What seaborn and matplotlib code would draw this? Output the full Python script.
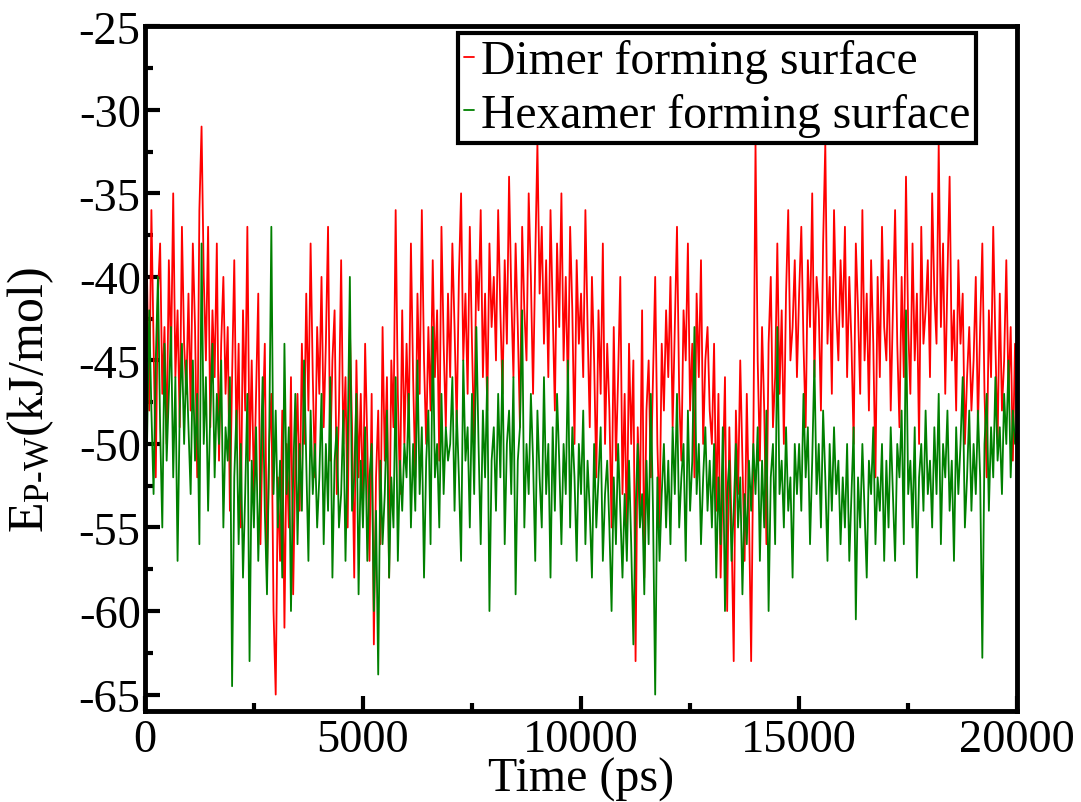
import numpy as np
import pandas as pd
import matplotlib
matplotlib.use("Agg")
import matplotlib.pyplot as plt
import seaborn as sns
from matplotlib.ticker import MultipleLocator
from matplotlib.lines import Line2D

# ---- data (kJ/mol), sampled every 50 ps from 0 to 20000 ps ----
time_step = 50
dimer = [
    -45, -40, -48, -36, -44, -52, -41, -38, -47, -43, -50, -39, -45, -35, -46, -42, -49, -37, -44, -47,
    -41, -48, -38, -43, -52, -36, -31, -40, -45, -37, -49, -42, -46, -38, -51, -44, -40, -47, -43, -54,
    -46, -39, -50, -44, -55, -42, -48, -37, -51, -45, -53, -47, -41, -56, -49, -44, -58, -50, -47, -60,
    -65, -52, -57, -48, -61, -50, -55, -46, -59, -51, -47, -54, -44, -50, -41, -48, -38, -46, -52, -43,
    -47, -40, -49, -44, -37, -51, -45, -42, -53, -48, -39, -50, -46, -55, -43, -49, -58, -45, -52, -47,
    -54, -44, -50, -57, -47, -62, -52, -48, -56, -43, -51, -46, -58, -45, -49, -36, -47, -53, -42, -50,
    -44, -49, -38, -46, -52, -41, -47, -36, -45, -50, -43, -48, -39, -46, -42, -51, -37, -44, -49, -41,
    -46, -38, -43, -49, -40, -35, -45, -41, -47, -37, -44, -50, -39, -42, -36, -46, -41, -48, -38, -43,
    -40, -45, -36, -42, -47, -39, -44, -34, -41, -46, -38, -43, -49, -37, -42, -45, -35, -40, -47, -39,
    -32, -41, -37, -44, -39, -46, -36, -42, -48, -38, -43, -35, -45, -40, -47, -37, -42, -50, -39, -44,
    -41, -46, -36, -43, -49, -40, -45, -52, -42, -47, -38, -50, -44, -48, -55, -43, -51, -46, -40, -53,
    -47, -56, -44, -50, -45, -63, -49, -54, -42, -58, -48, -45, -52, -46, -40, -50, -55, -44, -48, -42,
    -46, -40, -49, -43, -37, -47, -51, -42, -45, -38, -48, -44, -52, -41, -46, -39, -50, -45, -43, -48,
    -50, -44, -54, -47, -58, -52, -46, -60, -49, -55, -63, -48, -53, -45, -51, -57, -47, -54, -63, -50,
    -32, -45, -51, -43, -48, -56, -44, -40, -49, -46, -38, -47, -42, -50, -41, -36, -45, -43, -39, -46,
    -41, -37, -44, -49, -39, -43, -35, -46, -40, -42, -48, -38, -32, -44, -40, -47, -36, -42, -45, -39,
    -43, -37, -46, -40, -44, -50, -38, -42, -47, -36, -45, -41, -48, -39, -44, -52, -40, -46, -37, -43,
    -45, -39, -48, -42, -36, -44, -49, -40, -46, -34, -43, -47, -38, -45, -41, -50, -37, -44, -42, -39,
    -46, -35, -41, -44, -32, -43, -38, -47, -40, -34, -45, -42, -48, -39, -44, -41, -50, -46, -43, -48,
    -45, -40, -49, -43, -38, -47, -52, -42, -46, -37, -44, -50, -41, -48, -45, -39, -47, -43, -51, -44,
    -45,
]
hexamer = [
    -46, -50, -42, -48, -53, -45, -40, -49, -55, -44, -51, -47, -43, -52, -46, -57, -48, -44, -50, -45,
    -49, -53, -45, -51, -47, -56, -38, -50, -46, -54, -48, -44, -52, -47, -50, -45, -55, -49, -51, -46,
    -64.5, -52, -48, -56, -50, -58, -53, -47, -63, -51, -55, -49, -57, -52, -46, -54, -59, -50, -37, -53,
    -48, -55, -51, -58, -44, -53, -49, -60, -52, -47, -56, -50, -54, -45, -51, -57, -48, -53, -50, -55,
    -52, -47, -56, -50, -54, -46, -58, -51, -49, -55, -53, -48, -57, -50, -40, -54, -52, -47, -59, -51,
    -55, -49, -57, -52, -50, -60, -54, -63.8, -51, -56, -53, -48, -58, -52, -55, -46, -57, -51, -54, -50,
    -52, -47, -55, -50, -54, -45, -53, -49, -58, -51, -48, -56, -43, -52, -50, -55, -47, -53, -49, -51,
    -50, -46, -54, -48, -52, -57, -45, -51, -49, -55, -47, -53, -43, -50, -56, -48, -52, -46, -60, -51,
    -49, -54, -47, -52, -45, -56, -50, -48, -53, -46, -59, -51, -49, -42, -55, -50, -53, -47, -51, -57,
    -48, -52, -55, -46, -53, -50, -58, -49, -54, -47, -51, -56, -50, -53, -45, -55, -49, -52, -57, -50,
    -53, -48, -56, -51, -54, -58, -50, -55, -52, -49, -57, -53, -51, -55, -60, -52, -56, -50, -54, -58,
    -53, -57, -51, -56, -62, -54, -50, -55, -53, -59, -51, -56, -47, -54, -65, -52, -57, -53, -50, -55,
    -51, -56, -49, -53, -47, -55, -52, -50, -57, -48, -54, -51, -43, -53, -50, -56, -52, -49, -54, -51,
    -55, -50, -58, -52, -56, -49, -60, -53, -51, -57, -54, -50, -55, -52, -59, -53, -56, -51, -54, -50,
    -53, -49, -57, -51, -55, -48, -60, -52, -50, -56, -43, -53, -51, -55, -49, -54, -52, -58, -50, -53,
    -50, -54, -47, -52, -49, -56, -51, -45, -53, -50, -55, -48, -52, -57, -50, -54, -49, -53, -51, -56,
    -52, -55, -50, -57, -53, -49, -60.5, -52, -55, -50, -54, -58, -51, -53, -49, -56, -52, -54, -50, -57,
    -51, -55, -49, -53, -57, -50, -52, -48, -56, -42, -53, -51, -55, -49, -58, -52, -50, -54, -48, -53,
    -51, -55, -49, -53, -47, -56, -50, -52, -48, -54, -51, -57, -49, -53, -50, -46, -55, -52, -48, -54,
    -50, -53, -48, -52, -62.8, -50, -47, -54, -49, -52, -46, -51, -49, -53, -47, -50, -45, -52, -48, -50,
    -49,
]
series_names = ["Dimer forming surface", "Hexamer forming surface"]
series_colors = ["#ff0000", "#008000"]
x_ticks = [0, 5000, 10000, 15000, 20000]
y_ticks = [-65, -60, -55, -50, -45, -40, -35, -30, -25]

time = [i * time_step for i in range(len(dimer))]
df = pd.DataFrame({
    "Time": time + time,
    "E": dimer + hexamer,
    "series": [series_names[0]] * len(dimer) + [series_names[1]] * len(hexamer),
})

sns.set_theme(style="ticks")
plt.rcParams["font.family"] = ["Liberation Serif", "DejaVu Serif"]
plt.rcParams["mathtext.fontset"] = "custom"
plt.rcParams["mathtext.rm"] = "Liberation Serif"
plt.rcParams["mathtext.it"] = "Liberation Serif:italic"
for k in ["text.color", "axes.labelcolor", "xtick.color", "ytick.color", "axes.edgecolor"]:
    plt.rcParams[k] = "black"

fig, ax = plt.subplots(figsize=(10.81, 8.03), dpi=100)
fig.subplots_adjust(left=0.134, right=0.941, bottom=0.113, top=0.966)

sns.lineplot(data=df, x="Time", y="E", hue="series", hue_order=series_names,
             palette=series_colors, estimator=None, linewidth=1.3, ax=ax, legend=False)

ax.set_xlim(0, 20000)
ax.set_ylim(-66, -25)
ax.set_xticks(x_ticks)
ax.set_xticklabels([str(v) for v in x_ticks])
ax.set_yticks(y_ticks)
ax.set_yticklabels([str(v) for v in y_ticks])
ax.xaxis.set_minor_locator(MultipleLocator(2500))
ax.yaxis.set_minor_locator(MultipleLocator(2.5))

fs = 33.5
ax.tick_params(axis="both", which="major", direction="in", length=11, width=3,
               labelsize=fs, colors="black")
ax.tick_params(axis="x", which="major", pad=5)
ax.tick_params(axis="y", which="major", pad=3)
ax.tick_params(axis="both", which="minor", direction="in", length=6, width=3)
for s in ax.spines.values():
    s.set_linewidth(3.5)
    s.set_color("black")
    s.set_visible(True)

ax.set_xlabel("Time (ps)", fontsize=34.5, labelpad=-3)
ax.set_ylabel(r"E$_{\mathrm{P‐W}}$(kJ/mol)", fontsize=36)
ax.yaxis.set_label_coords(-0.102, 0.455)

handles = [Line2D([], [], color=c, linewidth=1.3) for c in series_colors]
leg = ax.legend(handles, series_names, loc="upper right", bbox_to_anchor=(0.953, 0.990),
                borderaxespad=0, fontsize=34.3, handlelength=0.2, handletextpad=0.14,
                labelspacing=0.2, borderpad=0.13, frameon=True, fancybox=False)
frame = leg.get_frame()
frame.set_edgecolor("black")
frame.set_linewidth(3)
frame.set_facecolor("white")
frame.set_alpha(1)

fig.savefig("out.png", dpi=100)
